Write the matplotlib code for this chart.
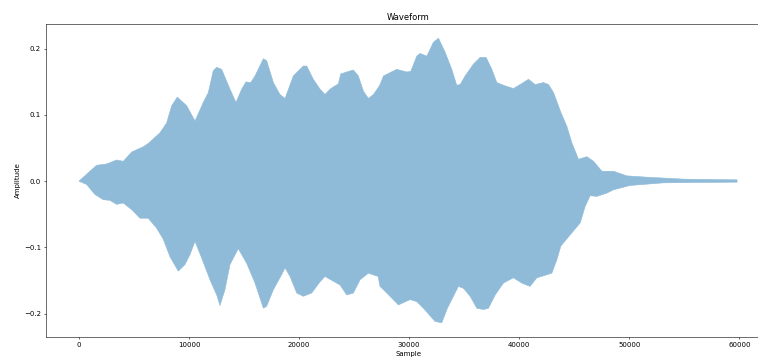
import numpy as np
import matplotlib.pyplot as plt

# envelope of the recorded waveform: sample index, positive peak, negative peak
upper_x = [0, 1000, 1610, 2520, 3430, 4030, 4790, 5850, 6300, 7360, 7970, 8430,
           8940, 9790, 10550, 11300, 11760, 12210, 12520, 12970, 13730, 14270,
           14790, 15180, 15610, 16000, 16760, 17060, 17670, 18270, 18730, 19480,
           20390, 20700, 21300, 21910, 22360, 22820, 23270, 23570, 23790, 24330,
           24940, 25390, 25850, 26300, 26760, 27180, 27360, 27670, 28880, 29790,
           30150, 30700, 31000, 31610, 32210, 32670, 33270, 33880, 34330, 34640,
           35090, 35850, 36450, 37000, 37520, 37970, 38730, 39480, 40090, 40850,
           41450, 42210, 42670, 43120, 43790, 44330, 44790, 45390, 46150, 46760,
           47520, 48570, 49790, 51600, 55000, 59800]
upper_y = [0.0, 0.015, 0.024, 0.026, 0.032, 0.030, 0.044, 0.052, 0.057, 0.073,
           0.088, 0.114, 0.127, 0.114, 0.091, 0.119, 0.134, 0.167, 0.172, 0.169,
           0.139, 0.119, 0.139, 0.150, 0.149, 0.159, 0.185, 0.182, 0.149, 0.131,
           0.125, 0.159, 0.174, 0.174, 0.154, 0.139, 0.131, 0.139, 0.144, 0.147,
           0.162, 0.165, 0.168, 0.159, 0.136, 0.125, 0.131, 0.141, 0.146, 0.159,
           0.169, 0.165, 0.166, 0.189, 0.193, 0.189, 0.210, 0.216, 0.195, 0.169,
           0.145, 0.146, 0.159, 0.177, 0.187, 0.187, 0.169, 0.149, 0.144, 0.140,
           0.146, 0.154, 0.146, 0.149, 0.146, 0.134, 0.104, 0.083, 0.058, 0.033,
           0.037, 0.030, 0.015, 0.015, 0.008, 0.006, 0.003, 0.002]

lower_x = [0, 700, 1450, 2210, 2820, 3430, 4030, 4790, 5550, 6300, 7060, 7670,
           8270, 9030, 9640, 10090, 10550, 11150, 11910, 12520, 12820, 13270,
           13730, 14480, 15240, 16000, 16760, 17060, 17670, 18430, 18730, 19180,
           19790, 20390, 21150, 21910, 22360, 22880, 23730, 24330, 24940, 25550,
           26300, 27180, 27360, 27970, 29030, 30090, 30700, 31300, 32360, 32970,
           33480, 34480, 34940, 35550, 36150, 36760, 37210, 37820, 38570, 39480,
           40240, 40990, 41610, 42210, 42970, 43420, 43790, 44640, 45550, 46000,
           46450, 47060, 47970, 48570, 50090, 53120, 59800]
lower_y = [0.0, -0.005, -0.020, -0.028, -0.029, -0.035, -0.033, -0.043, -0.056,
           -0.056, -0.071, -0.088, -0.114, -0.136, -0.126, -0.111, -0.091, -0.116,
           -0.149, -0.172, -0.188, -0.164, -0.126, -0.102, -0.124, -0.154, -0.192,
           -0.189, -0.164, -0.141, -0.131, -0.144, -0.169, -0.174, -0.169, -0.152,
           -0.144, -0.149, -0.157, -0.172, -0.169, -0.149, -0.139, -0.144, -0.159,
           -0.169, -0.187, -0.179, -0.182, -0.192, -0.212, -0.214, -0.192, -0.159,
           -0.162, -0.174, -0.192, -0.194, -0.192, -0.172, -0.154, -0.146, -0.154,
           -0.159, -0.146, -0.143, -0.139, -0.119, -0.098, -0.081, -0.063, -0.038,
           -0.022, -0.023, -0.018, -0.013, -0.0065, -0.0025, -0.0015]

fig = plt.figure(figsize=(758 / 50.4, 359 / 50.4), dpi=50.4)
ax = fig.add_axes([46 / 758, 22 / 359, 724 / 758, 313 / 359])

# one closed outline: top edge left to right, bottom edge back again
outline_x = np.concatenate([upper_x, lower_x[::-1]])
outline_y = np.concatenate([upper_y, lower_y[::-1]])
ax.fill(outline_x, outline_y, facecolor='#8fbbd9', edgecolor='#8fbbd9',
        linewidth=0.8)

ax.set_title('Waveform')
ax.set_xlabel('Sample')
ax.set_ylabel('Amplitude')
ax.set_xticks([0, 10000, 20000, 30000, 40000, 50000, 60000])
ax.set_yticks([-0.2, -0.1, 0.0, 0.1, 0.2])

fig.savefig('out.png', dpi=50.4)
